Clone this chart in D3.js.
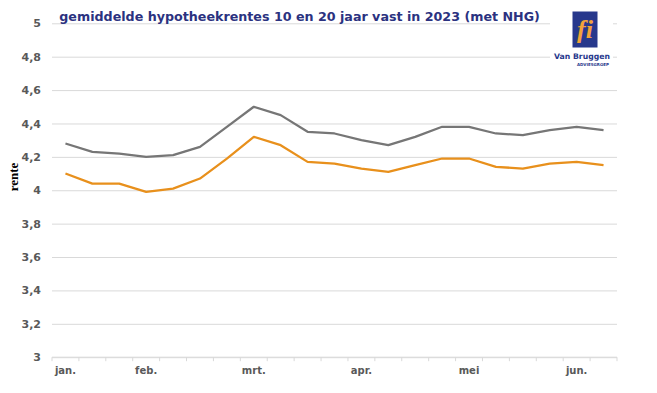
<!DOCTYPE html>
<html>
<head>
<meta charset="utf-8">
<script src="https://cdn.jsdelivr.net/npm/d3@7"></script>
<style>
  html, body { margin: 0; padding: 0; background: #ffffff; }
  svg { display: block; }
</style>
</head>
<body>
<svg id="chart" width="657" height="393"></svg>
<script>
// ---- data ----
const titleText = "gemiddelde hypotheekrentes 10 en 20 jaar vast in 2023 (met NHG)";
const yAxisTitle = "rente";
const categories = ["1","2","3","4","5","6","7","8","9","10","11","12","13","14","15","16","17","18","19","20","21"];
const monthTickCategories = ["1","4","8","12","16","20"];
const monthTickLabels = ["jan.","feb.","mrt.","apr.","mei","jun."];
const yTicks = [3, 3.2, 3.4, 3.6, 3.8, 4, 4.2, 4.4, 4.6, 4.8, 5];
const rente20jaar = [4.28,4.23,4.22,4.20,4.21,4.26,4.38,4.50,4.45,4.35,4.34,4.30,4.27,4.32,4.38,4.38,4.34,4.33,4.36,4.38,4.36];
const rente10jaar = [4.10,4.04,4.04,3.99,4.01,4.07,4.19,4.32,4.27,4.17,4.16,4.13,4.11,4.15,4.19,4.19,4.14,4.13,4.16,4.17,4.15];

(function () {
// ---- layout ----
const svg = d3.select("#chart");
const pLeft = 52, pRight = 617, pTop = 23.3, pBottom = 357.2;

const x = d3.scaleBand().domain(categories).range([pLeft, pRight]).paddingInner(0).paddingOuter(0);
const y = d3.scaleLinear().domain([3, 5]).range([pBottom, pTop]);
const nl = d3.formatLocale({decimal: ",", thousands: ".", grouping: [3], currency: ["€", ""]});
const fmt = nl.format("~g");

// gridlines
const grid = svg.append("g").attr("transform", `translate(${pLeft},0)`)
  .call(d3.axisLeft(y).tickValues(yTicks).tickSize(-(pRight - pLeft)).tickFormat(""));
grid.select(".domain").remove();
grid.selectAll("line").attr("stroke", "#d9d9d9").attr("stroke-width", 1);

// y tick labels
const yAx = svg.append("g").attr("transform", `translate(41,0)`)
  .call(d3.axisLeft(y).tickValues(yTicks).tickSize(0).tickPadding(0).tickFormat(fmt));
yAx.select(".domain").remove();
yAx.selectAll("text")
  .attr("fill", "#595959")
  .style("font-family", "'DejaVu Sans', Verdana, sans-serif")
  .style("font-weight", "bold")
  .style("font-size", "11px");

// x axis line + ticks between categories
const xAxG = svg.append("g");
xAxG.append("line")
  .attr("x1", pLeft).attr("x2", pRight)
  .attr("y1", y(3)).attr("y2", y(3))
  .attr("stroke", "#d9d9d9").attr("stroke-width", 1);
const tickPos = categories.map(c => x(c)).concat([x(categories[categories.length - 1]) + x.bandwidth()]);
xAxG.selectAll("line.tk").data(tickPos).join("line")
  .attr("class", "tk")
  .attr("x1", d => d).attr("x2", d => d)
  .attr("y1", y(3)).attr("y2", y(3) + 4)
  .attr("stroke", "#d9d9d9").attr("stroke-width", 1);
xAxG.selectAll("text").data(monthTickCategories).join("text")
  .attr("x", d => x(d) + x.bandwidth() / 2)
  .attr("y", 374)
  .attr("text-anchor", "middle")
  .attr("fill", "#595959")
  .style("font-family", "'DejaVu Sans', Verdana, sans-serif")
  .style("font-weight", "bold")
  .style("font-size", "10px")
  .text((d, i) => monthTickLabels[i]);

// y axis title
svg.append("text")
  .attr("transform", `translate(18,177) rotate(-90)`)
  .attr("text-anchor", "middle")
  .attr("fill", "#000")
  .style("font-family", "'Liberation Serif', 'Times New Roman', serif")
  .style("font-weight", "bold")
  .style("font-size", "13px")
  .text(yAxisTitle);

// lines
const line = d3.line()
  .x((d, i) => x(categories[i]) + x.bandwidth() / 2)
  .y(d => y(d));
svg.append("path").datum(rente20jaar)
  .attr("d", line).attr("fill", "none")
  .attr("stroke", "#767676").attr("stroke-width", 2.25).attr("stroke-linejoin", "round");
svg.append("path").datum(rente10jaar)
  .attr("d", line).attr("fill", "none")
  .attr("stroke", "#e8901c").attr("stroke-width", 2.25).attr("stroke-linejoin", "round");

// title
const title = svg.append("text")
  .attr("x", 59.3).attr("y", 21)
  .attr("fill", "#2b3280")
  .style("font-family", "'DejaVu Sans', Verdana, sans-serif")
  .style("font-weight", "bold")
  .style("font-size", "13px")
  .text(titleText);
const tw = title.node().getComputedTextLength();
title.style("font-size", (13 * 481 / tw) + "px");

// logo
const logo = svg.append("g");
logo.append("rect").attr("x", 550).attr("y", 5).attr("width", 63).attr("height", 64).attr("fill", "#fff");
logo.append("rect").attr("x", 572.5).attr("y", 11.5).attr("width", 25).attr("height", 36).attr("fill", "#27388c");
logo.append("text")
  .attr("x", 585).attr("y", 38)
  .attr("text-anchor", "middle")
  .attr("fill", "#f2a33a")
  .style("font-family", "'Liberation Serif', serif")
  .style("font-style", "italic")
  .style("font-weight", "bold")
  .style("font-size", "26px")
  .text("fi");
const vb = logo.append("text")
  .attr("x", 582).attr("y", 59)
  .attr("text-anchor", "middle")
  .attr("fill", "#27388c")
  .style("font-family", "'DejaVu Sans', Verdana, sans-serif")
  .style("font-weight", "bold")
  .style("font-size", "9px")
  .text("Van Bruggen");
const vbw = vb.node().getComputedTextLength();
vb.style("font-size", (9 * 56 / vbw) + "px");
logo.append("text")
  .attr("x", 609).attr("y", 66)
  .attr("text-anchor", "end")
  .attr("fill", "#27388c")
  .style("font-family", "'DejaVu Sans', sans-serif")
  .style("font-weight", "bold")
  .style("font-size", "4px")
  .text("ADVIESGROEP");
})();
</script>
</body>
</html>
